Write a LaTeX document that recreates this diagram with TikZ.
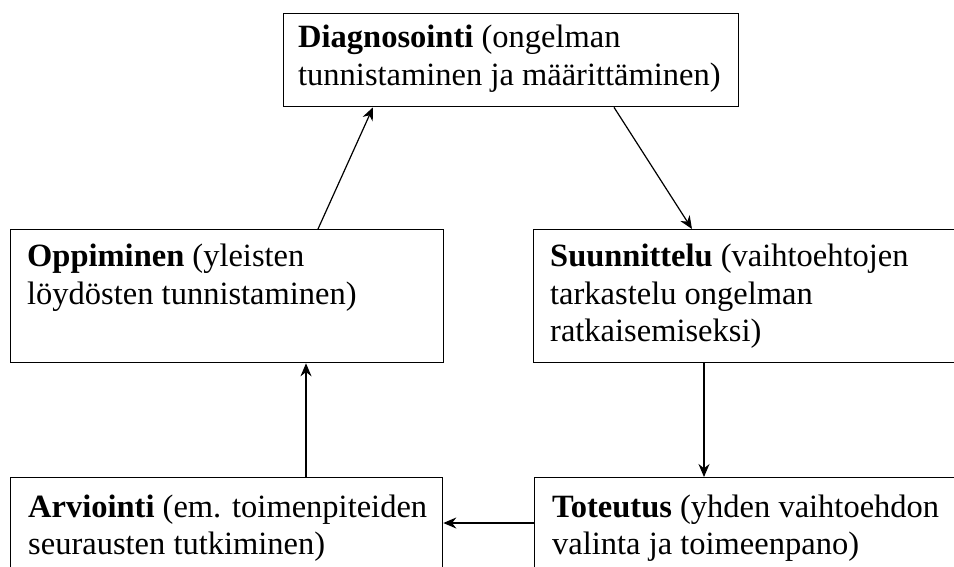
\documentclass[tikz,border=0pt]{standalone}
\usepackage{fontspec}
\setmainfont{Liberation Serif}
\usetikzlibrary{arrows.meta,positioning}

\begin{document}
\begin{tikzpicture}[x=1pt, y=-1pt, >={Stealth[length=13pt,width=11pt]},
  box/.style={draw, line width=1.3pt, anchor=north west, inner sep=0pt},
  txt/.style={inner sep=0pt, align=left, font=\fontsize{32.5}{37.5}\selectfont},
  flow/.style={->, line width=1.2pt}]
  \useasboundingbox (0,0) rectangle (954,566);
  \clip (0,0) rectangle (954,566);
  % the five stages
  \node[box, minimum width=455pt, minimum height=93pt] (diag) at (283,13) {};
  \node[box, minimum width=433pt, minimum height=133pt] (opp) at (10,229) {};
  \node[box, minimum width=440pt, minimum height=133pt] (suun) at (533,229) {};
  \node[box, minimum width=432pt, minimum height=120pt] (arv) at (10,477) {};
  \node[box, minimum width=440pt, minimum height=120pt] (tot) at (534,477) {};
  \node[txt] (diagtxt) [below right=8.5pt and 15pt of diag.north west]
    {\strut\textbf{Diagnosointi} (ongelman\\tunnistaminen ja määrittäminen)};
  \node[txt] (opptxt) [below right=11.5pt and 17pt of opp.north west]
    {\strut\textbf{Oppiminen} (yleisten\\löydösten tunnistaminen)};
  \node[txt] (suuntxt) [below right=11.5pt and 17pt of suun.north west]
    {\strut\textbf{Suunnittelu} (vaihtoehtojen\\tarkastelu ongelman\\ratkaisemiseksi)};
  \node[txt] (arvtxt) [below right=14pt and 18pt of arv.north west]
    {\strut\textbf{Arviointi} (em. toimenpiteiden\\seurausten tutkiminen)};
  \node[txt] (tottxt) [below right=14pt and 18pt of tot.north west]
    {\strut\textbf{Toteutus} (yhden vaihtoehdon\\valinta ja toimeenpano)};
  % the cycle
  \draw[flow] ([xshift=308pt]opp.north west) -- ([xshift=90pt]diag.south west);
  \draw[flow] ([xshift=331pt]diag.south west) -- ([xshift=159pt]suun.north west);
  \draw[flow] ([xshift=171pt]suun.south west) -- ([xshift=170pt]tot.north west);
  \draw[flow] ([yshift=-46pt]tot.north west) -- ([yshift=-46pt]arv.north east);
  \draw[flow] ([xshift=296pt]arv.north west) -- ([xshift=296pt]opp.south west);
\end{tikzpicture}
\end{document}
